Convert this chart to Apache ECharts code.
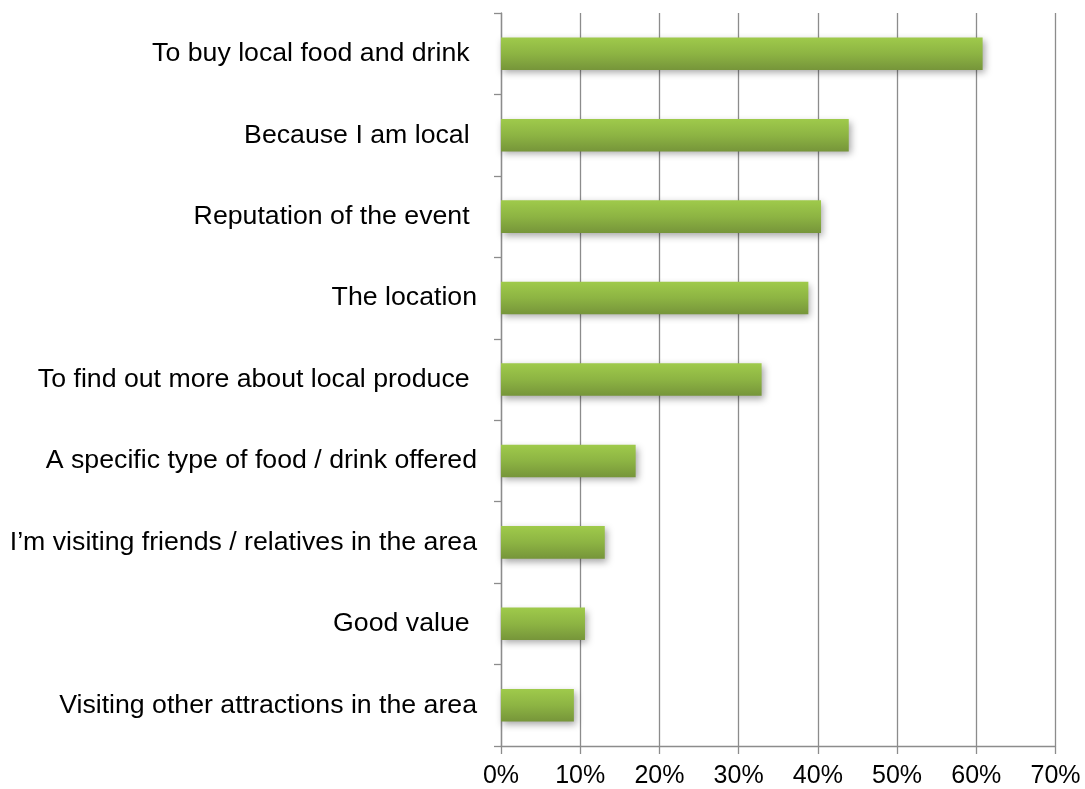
<!DOCTYPE html>
<html>
<head>
<meta charset="utf-8">
<script src="https://cdn.jsdelivr.net/npm/echarts@6/dist/echarts.min.js"></script>
<style>
  html, body { margin: 0; padding: 0; background: #ffffff; }
  #chart { width: 1085px; height: 789px; }
</style>
</head>
<body>
<div id="chart"></div>
<script>
// Reasons for attending, top to bottom
const reasons = [
  'To buy local food and drink ',
  'Because I am local ',
  'Reputation of the event ',
  'The location',
  'To find out more about local produce ',
  'A specific type of food / drink offered',
  'I\u2019m visiting friends / relatives in the area',
  'Good value ',
  'Visiting other attractions in the area'
];
// Share of respondents (%)
const shares = [60.8, 43.9, 40.4, 38.8, 32.9, 17.0, 13.1, 10.6, 9.2];
// Horizontal axis ticks (%)
const tickMin = 0, tickMax = 70, tickStep = 10;

const chart = echarts.init(document.getElementById('chart'), null, { renderer: 'canvas' });
const font = '"Liberation Sans", Arial, sans-serif';
const axisGray = '#8c8c8c';

chart.setOption({
  animation: false,
  backgroundColor: '#ffffff',
  grid: { left: 501, right: 29.5, top: 13, bottom: 43, containLabel: false },
  xAxis: {
    type: 'value',
    min: tickMin, max: tickMax, interval: tickStep,
    axisLine: { show: true, lineStyle: { color: axisGray, width: 1.3 } },
    axisTick: { show: true, length: 8, lineStyle: { color: axisGray, width: 1.3 } },
    splitLine: { show: true, lineStyle: { color: axisGray, width: 1.3 } },
    axisLabel: {
      formatter: v => v + '%',
      color: '#000000', fontFamily: font, fontSize: 25, margin: 18
    }
  },
  yAxis: {
    type: 'category',
    data: reasons,
    inverse: true,
    axisLine: { show: true, lineStyle: { color: axisGray, width: 1.3 } },
    axisTick: { show: true, length: 7, alignWithLabel: false, lineStyle: { color: axisGray, width: 1.3 } },
    splitLine: { show: false },
    axisLabel: {
      color: '#000000', fontFamily: font, fontSize: 26.7, margin: 24
    }
  },
  series: [{
    type: 'bar',
    data: shares,
    barWidth: '40%',
    itemStyle: {
      color: new echarts.graphic.LinearGradient(0, 0, 0, 1, [
        { offset: 0, color: '#9fca4b' },
        { offset: 0.5, color: '#8db443' },
        { offset: 1, color: '#76953a' }
      ]),
      shadowColor: 'rgba(0,0,0,0.35)',
      shadowBlur: 7,
      shadowOffsetX: 2,
      shadowOffsetY: 3
    }
  }]
});
</script>
</body>
</html>
